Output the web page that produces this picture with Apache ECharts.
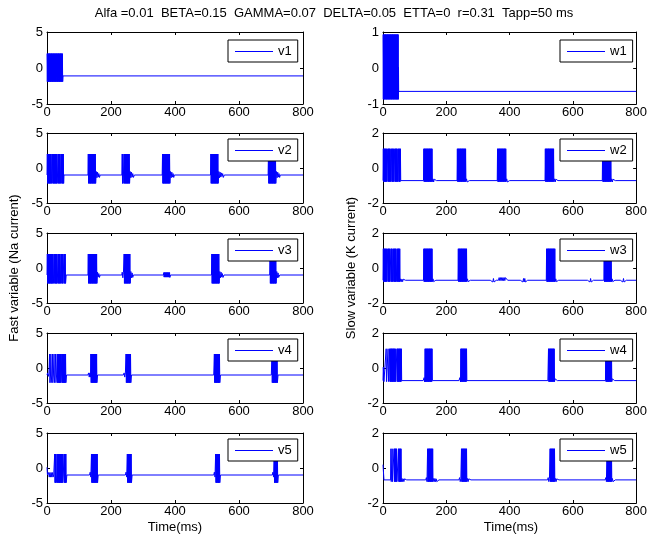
<!DOCTYPE html>
<html><head><meta charset="utf-8">
<script src="https://cdn.jsdelivr.net/npm/echarts@6/dist/echarts.min.js"></script>
<style>html,body{margin:0;padding:0;background:#fff}#c{width:650px;height:538px}</style>
</head><body><div id="c"></div>
<script>
const titleText = 'Alfa =0.01  BETA=0.15  GAMMA=0.07  DELTA=0.05  ETTA=0  r=0.31  Tapp=50 ms';
const yLabelLeft = 'Fast variable (Na current)';
const yLabelRight = 'Slow variable (K current)';
const xLabel = 'Time(ms)';
const xTicks = [0, 200, 400, 600, 800];
const vTicks = [-5, 0, 5];
const w1Ticks = [-1, 0, 1];
const wTicks = [-2, 0, 2];
const vNames = ['v1', 'v2', 'v3', 'v4', 'v5'];
const wNames = ['w1', 'w2', 'w3', 'w4', 'w5'];

const v1 = [[0,2],[1,-1.9],[2,2],[3,-1.9],[4,2],[5,-1.9],[6,2],[7,-1.9],[8,2],[9,-1.9],[10,2],[11,-1.9],[12,2],[13,-1.9],[14,2],[15,-1.9],[16,2],[17,-1.9],[18,2],[19,-1.9],[20,2],[21,-1.9],[22,2],[23,-1.9],[24,2],[25,-1.9],[26,2],[27,-1.9],[28,2],[29,-1.9],[30,2],[31,-1.9],[32,2],[33,-1.9],[34,2],[35,-1.9],[36,2],[37,-1.9],[38,2],[39,-1.9],[40,2],[41,-1.9],[42,2],[43,-1.9],[44,2],[45,-1.9],[46,2],[47,-1.9],[48,2],[49,-1.9],[50,-1.1],[800,-1.1]];

const w1 = [[0,0.93],[1,-0.87],[2,0.93],[3,-0.87],[4,0.93],[5,-0.87],[6,0.93],[7,-0.87],[8,0.93],[9,-0.87],[10,0.93],[11,-0.87],[12,0.93],[13,-0.87],[14,0.93],[15,-0.87],[16,0.93],[17,-0.87],[18,0.93],[19,-0.87],[20,0.93],[21,-0.87],[22,0.93],[23,-0.87],[24,0.93],[25,-0.87],[26,0.93],[27,-0.87],[28,0.93],[29,-0.87],[30,0.93],[31,-0.87],[32,0.93],[33,-0.87],[34,0.93],[35,-0.87],[36,0.93],[37,-0.87],[38,0.93],[39,-0.87],[40,0.93],[41,-0.87],[42,0.93],[43,-0.87],[44,0.93],[45,-0.87],[46,0.93],[47,-0.87],[48,0.93],[48.5,-0.87],[49,0.02],[49.5,-0.65],[800,-0.65]];

const v2 = [[0,-1],[1,2],[2,-2.2],[3,2],[4,-2.2],[5,2],[6,-2.2],[7,2],[8,-2.2],[9,2],[10,-2.2],[11,2],[12,-2.2],[13,2],[14,-2.2],[16,-2.2],[17,2],[18,-2.2],[19,2],[20,-2.2],[21,2],[22,-2.2],[23,2],[24,-2.2],[25,2],[26,-2.2],[27,2],[28,-2.2],[29,2],[30,-2.2],[31,2],[32,-2.2],[34,-2.2],[35,2],[36,-2.2],[37,2],[38,-2.2],[39,2],[40,-2.2],[41,2],[42,-2.2],[44,-2.2],[45,2],[46,-2.2],[47,2],[48,-2.2],[49,2],[50,-2.2],[51,2],[52,-2.2],[53,-1],
[128,-1],[129,2],[130,-2.2],[131,2],[132,-2.2],[133,2],[134,-2.2],[135,2],[136,-2.2],[137,2],[138,-2.2],[139,2],[140,-2.2],[141,2],[142,-2.2],[143,2],[144,-2.2],[145,2],[146,-2.2],[147,2],[148,-2.2],[149,2],[150,-2.2],[151,2],[152,-2.2],[154,-0.5],[156,-1.4],[158,-0.6],[160,-1.3],[162,-0.8],[164,-1.35],[166,-1],
[234,-1],[235,2],[236,-2.2],[237,2],[238,-2.2],[240,-2.2],[241,2],[242,-2.2],[243,2],[244,-2.2],[245,2],[246,-2.2],[247,2],[248,-2.2],[249,2],[250,-2.2],[251,2],[252,-2.2],[253,2],[254,-2.2],[255,2],[256,-2.2],[257,2],[258,-2.2],[260,-0.5],[262,-1.4],[264,-0.6],[266,-1.3],[268,-0.8],[270,-1.35],[273,-1],
[360,-1],[361,2],[362,-2.2],[363,2],[364,-2.2],[365,2],[366,-2.2],[367,2],[368,-2.2],[369,2],[370,-2.2],[371,2],[372,-2.2],[373,2],[374,-2.2],[375,2],[376,-2.2],[377,2],[378,-2.2],[379,2],[380,-2.2],[381,2],[382,-2.2],[383,2],[384,-2.2],[386,-0.5],[388,-1.4],[390,-0.6],[392,-1.3],[394,-0.8],[396,-1.35],[398,-1],
[511,-1],[512,2],[513,-2.2],[514,2],[515,-2.2],[516,2],[517,-2.2],[518,2],[519,-2.2],[520,2],[521,-2.2],[522,2],[523,-2.2],[524,2],[525,-2.2],[526,2],[527,-2.2],[528,2],[529,-2.2],[530,2],[531,-2.2],[532,2],[533,-2.2],[534,2],[535,-2.2],[537,-0.5],[539,-1.4],[541,-0.6],[543,-1.3],[545,-0.7],[547,-1.2],[549,-0.8],[551,-1.35],[554,-1],
[691,-1],[692,2],[693,-2.2],[694,2],[695,-2.2],[696,2],[697,-2.2],[698,2],[699,-2.2],[700,2],[701,-2.2],[702,2],[703,-2.2],[704,2],[705,-2.2],[706,2],[707,-2.2],[708,2],[709,-2.2],[710,2],[711,-2.2],[712,2],[713,-2.2],[714,2],[715,-2.2],[717,-0.5],[719,-1.4],[721,-0.6],[723,-1.3],[725,-0.8],[727,-1.35],[729,-1],[800,-1]];

const w2 = [[0,-0.72],[1,1.1],[2,-0.78],[3,1.1],[4,-0.78],[5,1.1],[6,-0.78],[7,1.1],[8,-0.78],[9,1.1],[10,-0.78],[11,1.1],[12,-0.78],[14,-0.78],[15,1.1],[16,-0.78],[17,1.1],[18,-0.78],[19,1.1],[20,-0.78],[21,1.1],[22,-0.78],[23,1.1],[24,-0.78],[26,-0.78],[27,1.1],[28,-0.78],[29,1.1],[30,-0.78],[31,1.1],[32,-0.78],[33,1.1],[34,-0.78],[36,-0.78],[37,1.1],[38,-0.78],[39,1.1],[40,-0.78],[41,1.1],[42,-0.78],[43,1.1],[44,-0.78],[45,1.1],[46,-0.78],[48,-0.78],[49,1.1],[50,-0.78],[51,1.1],[52,-0.78],[53,1.1],[54,-0.78],[55,1.1],[56,-0.72],
[128,-0.72],[129,1.1],[130,-0.78],[131,1.1],[132,-0.78],[133,1.1],[134,-0.78],[135,1.1],[136,-0.78],[137,1.1],[138,-0.78],[139,1.1],[140,-0.78],[141,1.1],[142,-0.78],[143,1.1],[144,-0.78],[145,1.1],[146,-0.78],[147,1.1],[148,-0.78],[149,1.1],[150,-0.78],[151,1.1],[152,-0.78],[153,1.1],[154,-0.78],[155,1.1],[156,-0.78],[158,-0.62],[160,-0.8],[162,-0.64],[169,-0.72],
[234,-0.72],[235,1.1],[236,-0.78],[237,1.1],[238,-0.78],[239,1.1],[240,-0.78],[241,1.1],[242,-0.78],[243,1.1],[244,-0.78],[245,1.1],[246,-0.78],[247,1.1],[248,-0.78],[249,1.1],[250,-0.78],[251,1.1],[252,-0.78],[253,1.1],[254,-0.78],[255,1.1],[256,-0.78],[257,1.1],[258,-0.78],[259,1.1],[260,-0.78],[261,1.1],[262,-0.78],[264,-0.62],[266,-0.8],[273,-0.72],
[361,-0.72],[362,1.1],[363,-0.78],[364,1.1],[365,-0.78],[366,1.1],[367,-0.78],[368,1.1],[369,-0.78],[370,1.1],[371,-0.78],[372,1.1],[373,-0.78],[374,1.1],[375,-0.78],[376,1.1],[377,-0.78],[378,1.1],[379,-0.78],[380,1.1],[381,-0.78],[382,1.1],[383,-0.78],[384,1.1],[385,-0.78],[386,1.1],[387,-0.78],[388,1.1],[389,-0.78],[391,-0.62],[393,-0.8],[400,-0.72],
[512,-0.72],[513,1.1],[514,-0.78],[515,1.1],[516,-0.78],[517,1.1],[518,-0.78],[519,1.1],[520,-0.78],[521,1.1],[522,-0.78],[523,1.1],[524,-0.78],[525,1.1],[526,-0.78],[527,1.1],[528,-0.78],[529,1.1],[530,-0.78],[531,1.1],[532,-0.78],[533,1.1],[534,-0.78],[535,1.1],[536,-0.78],[537,1.1],[538,-0.78],[539,1.1],[540,-0.78],[542,-0.62],[544,-0.8],[546,-0.64],[553,-0.72],
[693,-0.72],[694,1.1],[695,-0.78],[696,1.1],[697,-0.78],[698,1.1],[699,-0.78],[700,1.1],[701,-0.78],[702,1.1],[703,-0.78],[704,1.1],[705,-0.78],[706,1.1],[707,-0.78],[708,1.1],[709,-0.78],[710,1.1],[711,-0.78],[712,1.1],[713,-0.78],[714,1.1],[715,-0.78],[716,1.1],[717,-0.78],[718,1.1],[719,-0.78],[720,1.1],[721,-0.78],[723,-0.62],[725,-0.8],[727,-0.64],[734,-0.72],[800,-0.72]];

const v3 = [[0,-1],[1,2],[2,-2.2],[3,2],[4,-2.2],[5,2],[6,-2.2],[7,2],[8,-2.2],[9,2],[10,-2.2],[11,2],[12,-2.2],[13,2],[14,-2.2],[15,2],[16,-2.2],[17,2],[18,-2.2],[19,2],[20,-2.2],[22,-2.2],[23,2],[24,-2.2],[25,2],[26,-2.2],[27,2],[28,-2.2],[29,2],[30,-2.2],[31,2],[32,-2.2],[34,-2.2],[35,2],[36,-2.2],[37,2],[38,-2.2],[39,2],[40,-2.2],[41,2],[42,-2.2],[44,-2.2],[45,2],[46,-2.2],[47,2],[48,-2.2],[49,2],[50,-2.2],[52,-2.2],[53,2],[54,-2.2],[55,2],[56,-2.2],[57,2],[58,-2.2],[60,-1],
[128,-1],[129,2],[130,-2.2],[131,2],[132,-2.2],[133,2],[134,-2.2],[135,2],[136,-2.2],[137,2],[138,-2.2],[139,2],[140,-2.2],[141,2],[142,-2.2],[143,2],[144,-2.2],[145,2],[146,-2.2],[147,2],[148,-2.2],[149,2],[150,-2.2],[151,2],[152,-2.2],[153,2],[154,-2.2],[155,2],[156,-2.2],[158,-0.6],[160,-1.3],[162,-0.8],[164,-1.35],[166,-1],
[234,-1],[235,-0.6],[237,-1.4],[239,-0.6],[241,2],[242,-2.2],[243,2],[244,-2.2],[245,2],[246,-2.2],[247,2],[248,-2.2],[249,2],[250,-2.2],[251,2],[252,-2.2],[253,2],[254,-2.2],[255,2],[256,-2.2],[257,2],[258,-2.2],[259,2],[260,-2.2],[262,-0.5],[264,-1.4],[266,-0.7],[268,-1.35],[270,-1],
[364,-1],[365,-0.65],[366,-1.3],[367,-0.65],[368,-1.3],[369,-0.65],[370,-1.3],[371,-0.65],[372,-1.3],[373,-0.65],[374,-1.3],[375,-0.65],[376,-1.3],[377,-0.65],[378,-1.3],[379,-0.65],[380,-1.3],[381,-0.65],[382,-1.3],[383,-0.65],[384,-1.35],[386,-1],
[514,-1],[515,2],[516,-2.2],[517,2],[518,-2.2],[519,2],[520,-2.2],[521,2],[522,-2.2],[523,2],[524,-2.2],[525,2],[526,-2.2],[527,2],[528,-2.2],[529,2],[530,-2.2],[531,2],[532,-2.2],[533,2],[534,-2.2],[535,2],[536,-2.2],[537,2],[538,-2.2],[540,-0.5],[542,-1.4],[544,-0.6],[546,-1.3],[548,-0.8],[550,-1.35],[553,-1],
[696,-1],[697,2],[698,-2.2],[699,2],[700,-2.2],[701,2],[702,-2.2],[703,2],[704,-2.2],[705,2],[706,-2.2],[707,2],[708,-2.2],[709,2],[710,-2.2],[711,2],[712,-2.2],[713,2],[714,-2.2],[715,2],[716,-2.2],[718,-0.5],[720,-1.4],[722,-0.7],[724,-1.35],[727,-1],[800,-1]];

const w3 = [[0,-0.7],[1,1.1],[2,-0.78],[3,1.1],[4,-0.78],[5,1.1],[6,-0.78],[7,1.1],[8,-0.78],[9,1.1],[10,-0.78],[11,1.1],[12,-0.78],[14,-0.78],[15,1.1],[16,-0.78],[17,1.1],[18,-0.78],[19,1.1],[20,-0.78],[21,1.1],[22,-0.78],[24,-0.78],[25,1.1],[26,-0.78],[27,1.1],[28,-0.78],[29,1.1],[30,-0.78],[32,-0.78],[33,1.1],[34,-0.78],[35,1.1],[36,-0.78],[37,1.1],[38,-0.78],[39,1.1],[40,-0.78],[41,1.1],[42,-0.78],[44,-0.78],[45,1.1],[46,-0.78],[47,1.1],[48,-0.78],[49,1.1],[50,-0.78],[51,1.1],[52,-0.78],[53,1.1],[54,-0.78],[56,-0.62],[58,-0.78],[60,-0.64],[62,-0.78],[64,-0.64],[71,-0.7],
[128,-0.7],[129,1.1],[130,-0.78],[131,1.1],[132,-0.78],[133,1.1],[134,-0.78],[135,1.1],[136,-0.78],[137,1.1],[138,-0.78],[139,1.1],[140,-0.78],[141,1.1],[142,-0.78],[143,1.1],[144,-0.78],[145,1.1],[146,-0.78],[147,1.1],[148,-0.78],[149,1.1],[150,-0.78],[151,1.1],[152,-0.78],[153,1.1],[154,-0.78],[155,1.1],[156,-0.78],[158,-0.62],[160,-0.78],[167,-0.7],
[237,-0.7],[238,1.1],[239,-0.78],[240,1.1],[241,-0.78],[242,1.1],[243,-0.78],[244,1.1],[245,-0.78],[246,1.1],[247,-0.78],[248,1.1],[249,-0.78],[250,1.1],[251,-0.78],[252,1.1],[253,-0.78],[254,1.1],[255,-0.78],[256,1.1],[257,-0.78],[258,1.1],[259,-0.78],[260,1.1],[261,-0.78],[262,1.1],[263,-0.78],[264,1.1],[265,-0.78],[267,-0.62],[269,-0.78],[276,-0.7],
[339,-0.7],[341,-0.6],[343,-0.8],[345,-0.6],[347,-0.8],[349,-0.6],[351,-0.8],[358,-0.7],
[365,-0.7],[367,-0.55],[369,-0.72],[371,-0.55],[373,-0.72],[375,-0.55],[377,-0.72],[379,-0.55],[381,-0.72],[383,-0.55],[385,-0.72],[387,-0.55],[394,-0.7],
[434,-0.7],[436,-0.6],[438,-0.8],[440,-0.6],[442,-0.8],[444,-0.6],[446,-0.8],[448,-0.6],[450,-0.8],[457,-0.7],
[516,-0.7],[517,1.1],[518,-0.78],[519,1.1],[520,-0.78],[521,1.1],[522,-0.78],[523,1.1],[524,-0.78],[525,1.1],[526,-0.78],[527,1.1],[528,-0.78],[529,1.1],[530,-0.78],[531,1.1],[532,-0.78],[533,1.1],[534,-0.78],[535,1.1],[536,-0.78],[537,1.1],[538,-0.78],[539,1.1],[540,-0.78],[541,1.1],[542,-0.78],[543,1.1],[544,-0.78],[546,-0.62],[548,-0.78],[555,-0.7],
[646,-0.7],[648,-0.6],[650,-0.8],[652,-0.6],[654,-0.8],[656,-0.6],[658,-0.8],[665,-0.7],
[698,-0.7],[699,1.1],[700,-0.78],[701,1.1],[702,-0.78],[703,1.1],[704,-0.78],[705,1.1],[706,-0.78],[707,1.1],[708,-0.78],[709,1.1],[710,-0.78],[711,1.1],[712,-0.78],[713,1.1],[714,-0.78],[715,1.1],[716,-0.78],[717,1.1],[718,-0.78],[719,1.1],[720,-0.78],[721,1.1],[722,-0.78],[724,-0.62],[726,-0.78],[733,-0.7],
[750,-0.7],[752,-0.6],[754,-0.8],[756,-0.6],[758,-0.8],[760,-0.6],[762,-0.8],[769,-0.7],[800,-0.7]];

const v4 = [[0,-1],[2,-0.7],[4,-1.2],[6,-0.8],[8,2],[9,-2.1],[11,-1],[12,2],[13,-2.1],[15,-1],[17,2],[18,-2.1],[20,-1],[22,2],[23,-2.1],[25,-1],[27,2],[28,-2.1],[30,-1],[32,2],[33,-2.1],[34,2],[35,-2.1],[36,2],[37,-2.1],[38,2],[39,-2.1],[40,2],[41,-2.1],[42,2],[43,-2.1],[45,-1],[46,2],[47,-2.1],[48,2],[49,-2.1],[50,2],[51,-2.1],[52,2],[53,-2.1],[54,2],[55,-2.1],[56,2],[57,-2.1],[58,2],[59,-2.1],[61,-1],
[128,-1],[130,-0.7],[132,-1.3],[134,-0.7],[136,-1.3],[137,2],[138,-2.1],[139,2],[140,-2.1],[141,2],[142,-2.1],[143,2],[144,-2.1],[145,2],[146,-2.1],[147,2],[148,-2.1],[149,2],[150,-2.1],[151,2],[152,-2.1],[153,2],[154,-2.1],[155,2],[156,-2.1],[158,-1],
[239,-1],[241,-0.7],[243,-1.3],[245,-0.7],[247,2],[248,-2.1],[249,2],[250,-2.1],[251,2],[252,-2.1],[253,2],[254,-2.1],[255,2],[256,-2.1],[257,2],[258,-2.1],[259,2],[260,-2.1],[261,2],[262,-2.1],[264,-1],
[521,-1],[523,2],[524,-2.1],[525,2],[526,-2.1],[527,2],[528,-2.1],[529,2],[530,-2.1],[531,2],[532,-2.1],[533,2],[534,-2.1],[535,2],[536,-2.1],[537,2],[538,-2.1],[539,2],[540,-2.1],[542,-1],
[701,-1],[703,2],[704,-2.1],[705,2],[706,-2.1],[707,2],[708,-2.1],[709,2],[710,-2.1],[711,2],[712,-2.1],[713,2],[714,-2.1],[715,2],[716,-2.1],[717,2],[718,-2.1],[719,2],[720,-2.1],[722,-1],[800,-1]];

const w4 = [[0,-0.72],[1,0.05],[3,-0.78],[9,-0.78],[10,1.1],[11,-0.78],[15,-0.78],[16,1.1],[17,-0.78],[20,-0.78],[21,1.1],[22,-0.78],[23,1.1],[24,-0.78],[25,1.1],[26,-0.78],[27,1.1],[28,-0.78],[29,1.1],[30,-0.78],[31,1.1],[32,-0.78],[33,1.1],[34,-0.78],[35,1.1],[36,-0.78],[37,1.1],[38,-0.78],[39,1.1],[40,-0.78],[43,-0.78],[44,1.1],[45,-0.78],[46,1.1],[47,-0.78],[48,1.1],[49,-0.78],[50,1.1],[51,-0.78],[52,1.1],[53,-0.78],[54,1.1],[55,-0.78],[56,1.1],[57,-0.78],[58,1.1],[59,-0.72],
[127,-0.72],[130,-0.55],[132,-0.8],[133,1.1],[134,-0.78],[135,1.1],[136,-0.78],[137,1.1],[138,-0.78],[139,1.1],[140,-0.78],[141,1.1],[142,-0.78],[143,1.1],[144,-0.78],[145,1.1],[146,-0.78],[147,1.1],[148,-0.78],[149,1.1],[150,-0.78],[151,1.1],[152,-0.78],[153,1.1],[154,-0.78],[155,1.1],[156,-0.72],
[240,-0.72],[243,-0.55],[245,-0.8],[246,1.1],[247,-0.78],[248,1.1],[249,-0.78],[250,1.1],[251,-0.78],[252,1.1],[253,-0.78],[254,1.1],[255,-0.78],[256,1.1],[257,-0.78],[258,1.1],[259,-0.78],[260,1.1],[261,-0.78],[262,1.1],[263,-0.78],[264,1.1],[265,-0.72],
[521,-0.72],[523,1.1],[524,-0.78],[525,1.1],[526,-0.78],[527,1.1],[528,-0.78],[529,1.1],[530,-0.78],[531,1.1],[532,-0.78],[533,1.1],[534,-0.78],[535,1.1],[536,-0.78],[537,1.1],[538,-0.78],[539,1.1],[540,-0.78],[541,1.1],[542,-0.78],[544,-0.62],[551,-0.72],
[703,-0.72],[704,1.1],[705,-0.78],[706,1.1],[707,-0.78],[708,1.1],[709,-0.78],[710,1.1],[711,-0.78],[712,1.1],[713,-0.78],[714,1.1],[715,-0.78],[716,1.1],[717,-0.78],[718,1.1],[719,-0.78],[720,1.1],[721,-0.78],[722,1.1],[723,-0.78],[725,-0.62],[732,-0.72],[800,-0.72]];

const v5 = [[0,0.1],[1.5,-1],[3,-1],[5,-0.65],[7,-1.3],[9,-0.65],[11,-1.3],[13,-0.65],[15,-1.3],[17,-0.65],[19,-1.3],[21,-1],
[23,-1],[24,2],[25,-2.1],[26,2],[27,-2.1],[28,2],[29,-2.1],[31,-1],[32,2],[33,-2.1],[34,2],[35,-2.1],[36,2],[37,-2.1],[38,2],[39,-2.1],[40,2],[41,-2.1],[42,2],[43,-2.1],[44,2],[45,-2.1],[46,2],[47,-2.1],[48,2],[49,-2.1],[51,-1],[53,2],[54,-2.1],[55,2],[56,-2.1],[57,2],[58,-2.1],[59,2],[60,-2.1],[62,-1],
[133,-1],[135,-0.6],[137,-1.3],[139,2],[140,-2.1],[141,2],[142,-2.1],[143,2],[144,-2.1],[145,2],[146,-2.1],[147,2],[148,-2.1],[149,2],[150,-2.1],[151,2],[152,-2.1],[153,2],[154,-2.1],[155,2],[156,-2.1],[157,2],[158,-2.1],[160,-1],
[245,-1],[247,-0.6],[249,-1.3],[251,2],[252,-2.1],[253,2],[254,-2.1],[255,2],[256,-2.1],[257,2],[258,-2.1],[259,2],[260,-2.1],[261,2],[262,-2.1],[263,2],[264,-2.1],[266,-1],
[521,-1],[523,-0.6],[525,-1.3],[527,2],[528,-2.1],[529,2],[530,-2.1],[531,2],[532,-2.1],[533,2],[534,-2.1],[535,2],[536,-2.1],[537,2],[538,-2.1],[539,2],[540,-2.1],[542,-1],
[704,-1],[706,-0.6],[708,-1.3],[710,2],[711,-2.1],[712,2],[713,-2.1],[714,2],[715,-2.1],[716,2],[717,-2.1],[718,2],[719,-2.1],[720,2],[721,-2.1],[723,-1],[800,-1]];

const w5 = [[0,0.19],[3,-0.68],[24,-0.68],[25,1.1],[26,-0.78],[28,-0.78],[29,1.1],[30,-0.78],[34,-0.78],[35,1.1],[36,-0.78],[37,1.1],[38,-0.78],[39,1.1],[40,-0.78],[41,1.1],[42,-0.78],[43,1.1],[44,-0.78],[48,-0.78],[49,1.1],[50,-0.78],[51,1.1],[52,-0.78],[53,1.1],[54,-0.78],[55,1.1],[56,-0.78],[57,1.1],[58,-0.78],[60,-0.6],[62,-0.78],[64,-0.62],[66,-0.78],[68,-0.62],[75,-0.68],
[135,-0.68],[137,-0.55],[139,-0.78],[141,1.1],[142,-0.78],[143,1.1],[144,-0.78],[145,1.1],[146,-0.78],[147,1.1],[148,-0.78],[149,1.1],[150,-0.78],[151,1.1],[152,-0.78],[153,1.1],[154,-0.78],[155,1.1],[156,-0.78],[157,1.1],[158,-0.78],[160,-0.6],[162,-0.78],[164,-0.6],[166,-0.78],[168,-0.62],[170,-0.78],[177,-0.68],
[240,-0.68],[242,-0.55],[244,-0.78],[246,-0.6],[248,1.1],[249,-0.78],[250,1.1],[251,-0.78],[252,1.1],[253,-0.78],[254,1.1],[255,-0.78],[256,1.1],[257,-0.78],[258,1.1],[259,-0.78],[260,1.1],[261,-0.78],[262,1.1],[263,-0.78],[264,1.1],[265,-0.78],[267,-0.6],[269,-0.78],[271,-0.62],[278,-0.68],
[520,-0.68],[522,-0.55],[524,-0.78],[526,-0.6],[528,1.1],[529,-0.78],[530,1.1],[531,-0.78],[532,1.1],[533,-0.78],[534,1.1],[535,-0.78],[536,1.1],[537,-0.78],[538,1.1],[539,-0.78],[540,1.1],[541,-0.78],[542,1.1],[543,-0.78],[545,-0.6],[547,-0.78],[549,-0.62],[556,-0.68],
[702,-0.68],[704,-0.55],[706,-0.78],[708,1.1],[709,-0.78],[710,1.1],[711,-0.78],[712,1.1],[713,-0.78],[714,1.1],[715,-0.78],[716,1.1],[717,-0.78],[718,1.1],[719,-0.78],[720,1.1],[721,-0.78],[722,1.1],[723,-0.78],[725,-0.6],[727,-0.78],[734,-0.68],[800,-0.68]];

const leftData = [v1, v2, v3, v4, v5];
const rightData = [w1, w2, w3, w4, w5];

// layout (pixels)
const FONT = "'Liberation Sans', Arial, Helvetica, sans-serif";
const colLeft = [47, 383];
const plotW = 256;
const rowTop = [32, 133, 233, 333, 433];
const rowH = [72, 70, 70, 70, 70];
const legendLeft = [228, 560];
const legendTop = [40, 139, 239, 339, 439];
const BLUE = '#0000ff';

const grids = [], xAxes = [], yAxes = [], series = [], legends = [];
for (let r = 0; r < 5; r++) {
  for (let c = 0; c < 2; c++) {
    const g = grids.length;
    grids.push({ left: colLeft[c], top: rowTop[r], width: plotW, height: rowH[r], containLabel: false });
    const yt = c === 0 ? vTicks : (r === 0 ? w1Ticks : wTicks);
    const tickCommon = { show: true, inside: true, length: 3, lineStyle: { color: '#000', width: 1 } };
    const lineCommon = { show: true, onZero: false, lineStyle: { color: '#000', width: 1 } };
    const xb = { type: 'value', gridIndex: g, min: xTicks[0], max: xTicks[xTicks.length - 1], interval: xTicks[1] - xTicks[0],
      splitLine: { show: false }, axisLine: lineCommon, axisTick: tickCommon };
    const yb = { type: 'value', gridIndex: g, min: yt[0], max: yt[yt.length - 1], interval: yt[1] - yt[0],
      splitLine: { show: false }, axisLine: lineCommon, axisTick: tickCommon };
    xAxes.push(Object.assign({}, xb, { position: 'bottom', axisLabel: { show: true, margin: 2, color: '#000', fontSize: 13, fontFamily: FONT } }));
    xAxes.push(Object.assign({}, xb, { position: 'top', axisLabel: { show: false } }));
    yAxes.push(Object.assign({}, yb, { position: 'left', axisLabel: { show: true, margin: 4, color: '#000', fontSize: 13, fontFamily: FONT } }));
    yAxes.push(Object.assign({}, yb, { position: 'right', axisLabel: { show: false } }));
    const name = c === 0 ? vNames[r] : wNames[r];
    series.push({ type: 'line', name: name, xAxisIndex: 2 * g, yAxisIndex: 2 * g,
      data: c === 0 ? leftData[r] : rightData[r], symbol: 'none', showSymbol: false, smooth: false, clip: true,
      lineStyle: { color: BLUE, width: 1 }, itemStyle: { color: BLUE }, emphasis: { disabled: true }, silent: true, z: 2 });
    legends.push({ data: [name], left: legendLeft[c], top: legendTop[r], orient: 'horizontal',
      padding: [5, 6, 4, 7], itemWidth: 38, itemHeight: 1, itemGap: 0, icon: 'rect', selectedMode: false,
      backgroundColor: '#fff', borderColor: '#000', borderWidth: 1, z: 10,
      textStyle: { fontSize: 13, color: '#000', fontFamily: FONT } });
  }
}

const chart = echarts.init(document.getElementById('c'), null, { renderer: 'canvas' });
chart.setOption({
  animation: false,
  backgroundColor: '#fff',
  title: { text: titleText, left: 334, top: 7, textAlign: 'center', padding: 0,
    textStyle: { fontSize: 13, fontWeight: 'normal', color: '#000', fontFamily: FONT } },
  grid: grids, xAxis: xAxes, yAxis: yAxes, series: series, legend: legends,
  graphic: [
    { type: 'text', x: 14, y: 268, rotation: Math.PI / 2,
      style: { text: yLabelLeft, fontSize: 13, fontFamily: FONT, fill: '#000', textAlign: 'center', textVerticalAlign: 'middle' } },
    { type: 'text', x: 351, y: 268, rotation: Math.PI / 2,
      style: { text: yLabelRight, fontSize: 13, fontFamily: FONT, fill: '#000', textAlign: 'center', textVerticalAlign: 'middle' } },
    { type: 'text', x: colLeft[0] + plotW / 2, y: 527,
      style: { text: xLabel, fontSize: 13, fontFamily: FONT, fill: '#000', textAlign: 'center', textVerticalAlign: 'middle' } },
    { type: 'text', x: colLeft[1] + plotW / 2, y: 527,
      style: { text: xLabel, fontSize: 13, fontFamily: FONT, fill: '#000', textAlign: 'center', textVerticalAlign: 'middle' } }
  ]
});
</script></body></html>
